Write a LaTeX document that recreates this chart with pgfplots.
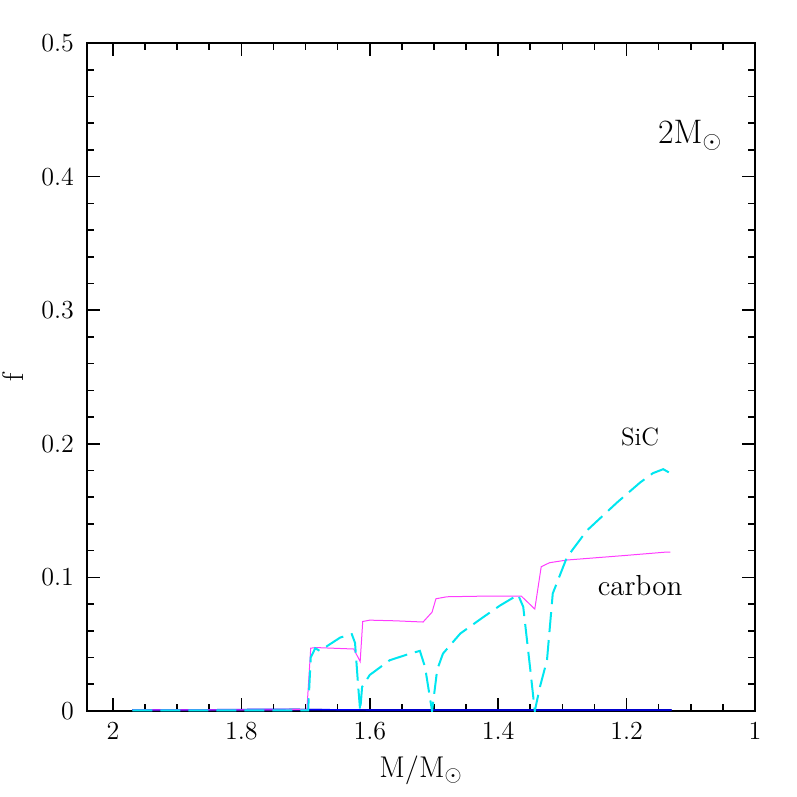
\documentclass[border=0pt]{standalone}
\usepackage{pgfplots}
\pgfplotsset{compat=1.18}
\usetikzlibrary{calc}
\begin{document}
\begin{tikzpicture}
\begin{axis}[
  name=ax,
  scale only axis,
  width=334pt, height=334pt,
  x dir=reverse,
  xmin=1, xmax=2.0405,
  ymin=0, ymax=0.5,
  xtick={1,1.2,1.4,1.6,1.8,2},
  ytick={0,0.1,0.2,0.3,0.4,0.5},
  minor x tick num=3,
  minor y tick num=4,
  xticklabels={1,1.2,1.4,1.6,1.8,2},
  yticklabels={0,0.1,0.2,0.3,0.4,0.5},
  tick align=inside,
  major tick length=6.5pt,
  minor tick length=3.5pt,
  every tick/.style={black, line width=0.8pt},
  axis line style={line width=1pt},
  ticklabel style={font=\fontsize{13}{15}\selectfont},
  yticklabel style={xshift=-3pt},
  xticklabel style={yshift=-2pt},
  xlabel={\fontsize{15}{17}\selectfont M$/$M$_\odot$},
  ylabel={\fontsize{15}{17}\selectfont f},
  xlabel style={yshift=-1pt},
  ylabel style={yshift=2pt},
  clip=true,
]
% near-zero curves
\addplot[color={rgb,255:red,0;green,0;blue,120}, line width=1pt] coordinates {(1.97,0.0006) (1.80,0.0006) (1.70,0.0008) (1.60,0.0006) (1.40,0.0006) (1.20,0.0006) (1.13,0.0006)};
\addplot[color=blue, line width=0.6pt] coordinates {(1.97,0.0009) (1.85,0.0010) (1.75,0.0014) (1.70,0.0012) (1.60,0.0008) (1.40,0.0008) (1.13,0.0008)};
% carbon
\addplot[color={rgb,255:red,255;green,60;blue,255}, line width=0.5pt] coordinates {
(1.97,0.0008) (1.80,0.0008) (1.698,0.001) (1.692,0.047) (1.685,0.0475) (1.625,0.0464) (1.615,0.037) (1.611,0.067) (1.60,0.068) (1.56,0.0675) (1.517,0.0666) (1.503,0.074) (1.497,0.084) (1.48,0.0855) (1.42,0.086) (1.364,0.086) (1.343,0.0763) (1.333,0.108) (1.32,0.111) (1.293,0.113) (1.20,0.1165) (1.137,0.119) (1.132,0.119)};
% SiC
\addplot[color={rgb,255:red,0;green,230;blue,240}, line width=1pt, dash pattern=on 10pt off 4pt] coordinates {
(1.97,0.0005) (1.80,0.0005) (1.696,0.0005) (1.692,0.040) (1.685,0.047) (1.678,0.045) (1.646,0.055) (1.628,0.0575) (1.623,0.051) (1.618,0.018) (1.615,0.0) (1.612,0.018) (1.600,0.027) (1.569,0.038) (1.537,0.043) (1.522,0.045) (1.514,0.033) (1.503,0.0) (1.495,0.031) (1.486,0.043) (1.459,0.058) (1.424,0.070) (1.397,0.079) (1.369,0.087) (1.361,0.078) (1.350,0.031) (1.343,0.0) (1.335,0.018) (1.324,0.038) (1.315,0.088) (1.293,0.115) (1.262,0.135) (1.215,0.156) (1.179,0.171) (1.159,0.178) (1.143,0.181) (1.132,0.178)};
\node[font=\fontsize{17}{19}\selectfont] at (axis cs:1.101,0.431) {2M$_\odot$};
\node[font=\fontsize{12.5}{14}\selectfont] at (axis cs:1.179,0.205) {SiC};
\node[font=\fontsize{14.5}{16}\selectfont] at (axis cs:1.179,0.094) {carbon};
\end{axis}
\pgfresetboundingbox
\path[use as bounding box] ($(ax.south west)+(-43.5pt,-43pt)$) rectangle ($(ax.north east)+(21pt,21.5pt)$);
\end{tikzpicture}
\end{document}
